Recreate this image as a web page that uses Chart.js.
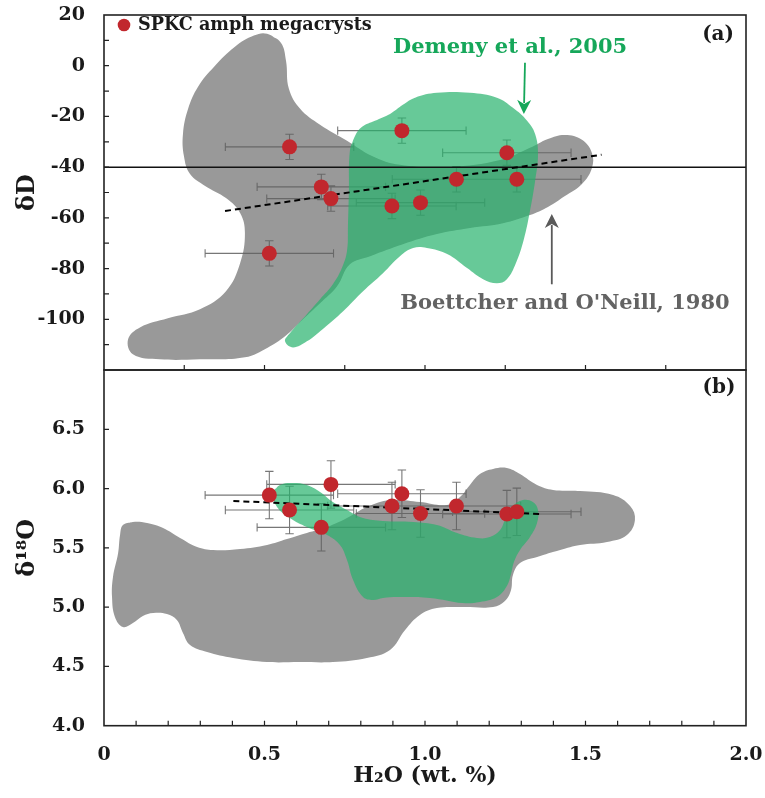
<!DOCTYPE html>
<html>
<head>
<meta charset="utf-8">
<title>SPKC amphibole megacrysts: δD and δ18O vs H2O</title>
<script src="https://cdn.jsdelivr.net/npm/chart.js@4.4.1/dist/chart.umd.min.js"></script>
<style>
  html, body { margin: 0; padding: 0; background: #ffffff; }
  #wrap { position: relative; width: 765px; height: 798px; overflow: hidden; }
  #panelA { position: absolute; left: 0; top: 0; width: 765px; height: 380px; }
  #panelB { position: absolute; left: 0; top: 360px; width: 765px; height: 438px; }
</style>
</head>
<body>
<div id="wrap">
  <canvas id="panelA" width="765" height="380"></canvas>
  <canvas id="panelB" width="765" height="438"></canvas>
</div>
<script>
// ---------- sample measurements (amphibole megacrysts) ----------
const sampleH2O  = [0.515, 0.578, 0.677, 0.707, 0.897, 0.928, 0.986, 1.098, 1.255, 1.286];
const sampleDD   = [-74.0, -32.0, -47.8, -52.4, -55.3, -25.6, -54.0, -44.8, -34.3, -44.8];
const sampleD18O = [5.945, 5.819, 5.673, 6.035, 5.853, 5.956, 5.790, 5.853, 5.785, 5.804];
const errH2O     = [0.2, 0.2, 0.2, 0.2, 0.2, 0.2, 0.2, 0.2, 0.2, 0.2];
const errDD      = [5, 5, 5, 5, 5, 5, 5, 5, 5, 5];
const errD18O    = [0.2, 0.2, 0.2, 0.2, 0.2, 0.2, 0.2, 0.2, 0.2, 0.2];

// ---------- regression lines ----------
const trendDDx = [0.377, 1.550];
const trendDDy = [-57.3, -35.1];
const trendOx  = [0.403, 1.366];
const trendOy  = [5.895, 5.785];

// ---------- horizontal reference in δD ----------
const refLineX = [0, 2];
const refLineDD = -40;

// ---------- literature fields: [H2O, δD] outlines ----------
const boettcherDD = [
  [0.508, 12.6], [0.551, 9.1], [0.567, 2.0], [0.576, -9.1], [0.611, -17.0], [0.673, -23.3],
  [0.757, -29.6], [0.835, -35.6], [0.922, -39.1], [1.078, -39.9], [1.234, -37.2], [1.327, -32.4],
  [1.383, -28.9], [1.436, -27.3], [1.489, -29.2], [1.520, -34.4], [1.520, -40.3], [1.489, -46.6],
  [1.436, -51.4], [1.383, -55.7], [1.327, -58.9], [1.243, -62.1], [1.140, -64.0], [1.037, -66.4],
  [0.931, -70.4], [0.829, -75.1], [0.766, -78.3], [0.726, -87.0], [0.673, -93.7], [0.620, -100.0],
  [0.564, -106.7], [0.511, -111.1], [0.439, -115.0], [0.299, -115.8], [0.174, -115.8], [0.090, -113.8],
  [0.075, -107.9], [0.112, -103.2], [0.199, -99.6], [0.299, -96.0], [0.380, -88.9], [0.424, -77.9],
  [0.439, -66.0], [0.424, -58.1], [0.380, -52.2], [0.315, -47.4], [0.268, -42.7], [0.249, -35.6],
  [0.246, -26.9], [0.262, -17.0], [0.293, -8.3], [0.343, -0.4], [0.408, 7.5], [0.467, 11.9]
];
const demenyDD = [
  [0.766, -33.6], [0.782, -27.7], [0.804, -24.1], [0.844, -21.7], [0.891, -19.0], [0.931, -15.4],
  [0.969, -12.6], [1.037, -10.7], [1.140, -10.7], [1.224, -12.6], [1.274, -16.6], [1.318, -21.7],
  [1.343, -26.9], [1.352, -34.8], [1.343, -45.5], [1.327, -57.3], [1.308, -68.4], [1.283, -77.9],
  [1.255, -84.2], [1.224, -85.8], [1.181, -84.2], [1.131, -79.8], [1.069, -74.3], [1.006, -71.9],
  [0.963, -71.9], [0.922, -75.1], [0.869, -81.8], [0.807, -88.9], [0.745, -96.8], [0.682, -103.8],
  [0.632, -108.7], [0.589, -111.1], [0.564, -108.7], [0.579, -105.5], [0.632, -98.0], [0.673, -92.1],
  [0.713, -86.2], [0.741, -79.8], [0.757, -73.1], [0.760, -63.2], [0.763, -49.4]
];

// ---------- literature fields: [H2O, δ18O] outlines ----------
const boettcherO = [
  [0.059, 5.692], [0.090, 5.718], [0.134, 5.709], [0.184, 5.667], [0.237, 5.583], [0.290, 5.507],
  [0.340, 5.481], [0.424, 5.490], [0.508, 5.524], [0.570, 5.574], [0.632, 5.625], [0.695, 5.675],
  [0.757, 5.751], [0.819, 5.844], [0.891, 5.903], [0.984, 5.886], [1.069, 5.861], [1.109, 5.928],
  [1.140, 6.030], [1.171, 6.122], [1.212, 6.165], [1.255, 6.173], [1.296, 6.122], [1.349, 6.030],
  [1.399, 5.988], [1.483, 5.979], [1.586, 5.946], [1.639, 5.853], [1.654, 5.734], [1.629, 5.608],
  [1.567, 5.549], [1.483, 5.524], [1.421, 5.482], [1.349, 5.423], [1.296, 5.372], [1.274, 5.271],
  [1.268, 5.144], [1.249, 5.051], [1.212, 5.001], [1.118, 5.001], [1.037, 4.992], [0.984, 4.933],
  [0.938, 4.807], [0.891, 4.638], [0.819, 4.571], [0.713, 4.537], [0.611, 4.537], [0.508, 4.537],
  [0.402, 4.571], [0.321, 4.621], [0.268, 4.680], [0.246, 4.782], [0.227, 4.891], [0.196, 4.942],
  [0.153, 4.950], [0.121, 4.925], [0.090, 4.866], [0.059, 4.832], [0.034, 4.917], [0.025, 5.085],
  [0.028, 5.254], [0.044, 5.456], [0.050, 5.608]
];
const demenyO = [
  [0.526, 5.962], [0.548, 6.030], [0.589, 6.047], [0.632, 6.030], [0.673, 5.971], [0.713, 5.886],
  [0.757, 5.819], [0.807, 5.751], [0.869, 5.726], [0.963, 5.718], [1.037, 5.692], [1.100, 5.625],
  [1.162, 5.583], [1.202, 5.591], [1.234, 5.650], [1.249, 5.734], [1.271, 5.844], [1.305, 5.903],
  [1.336, 5.886], [1.352, 5.819], [1.349, 5.709], [1.327, 5.591], [1.296, 5.482], [1.277, 5.380],
  [1.268, 5.279], [1.255, 5.178], [1.224, 5.085], [1.171, 5.043], [1.118, 5.034], [1.016, 5.077],
  [0.913, 5.085], [0.869, 5.077], [0.838, 5.060], [0.807, 5.085], [0.776, 5.228], [0.757, 5.397],
  [0.735, 5.524], [0.695, 5.608], [0.632, 5.675], [0.579, 5.751], [0.539, 5.844]
];

// ---------- axis ticks and labels ----------
const dDTicks    = [-100, -80, -60, -40, -20, 0, 20];
const dDLabels   = ['-100', '-80', '-60', '-40', '-20', '0', '20'];
const dDMarks    = [-110, -100, -90, -80, -70, -60, -50, -40, -30, -20, -10, 0, 10];
const h2oMarksA  = [0.25, 0.5, 0.75, 1.0, 1.25, 1.5, 1.75];
const o18Ticks   = [4.0, 4.5, 5.0, 5.5, 6.0, 6.5];
const o18Labels  = ['4.0', '4.5', '5.0', '5.5', '6.0', '6.5'];
const o18Marks   = [4.5, 5.0, 5.5, 6.0, 6.5];
const h2oTicks   = [0, 0.5, 1.0, 1.5, 2.0];
const h2oLabels  = ['0', '0.5', '1.0', '1.5', '2.0'];
const h2oMarksB  = [0.1, 0.2, 0.3, 0.4, 0.5, 0.6, 0.7, 0.8, 0.9, 1.0, 1.1, 1.2, 1.3, 1.4, 1.5, 1.6, 1.7, 1.8, 1.9];

// ---------- styling ----------
const SERIF = "'DejaVu Serif', 'Liberation Serif', serif";
const INK = '#1a1a1a';
const RED = '#C1272D';
const GREEN_FILL = 'rgba(38,178,108,0.7)';
const GRAY_FILL = '#999999';
const GREEN_TEXT = '#16A75A';
const GRAY_TEXT = '#636363';
const ERR_COLOR = 'rgba(95,95,95,0.85)';

Chart.defaults.font.family = SERIF;

const pairs = (xs, ys) => xs.map((x, i) => ({ x, y: ys[i] }));
// repeat the first two vertices so the smoothed outline closes without a corner
const closedOutline = pts => pts.concat(pts.slice(0, 2)).map(([x, y]) => ({ x, y }));

function fieldDataset(label, pts, color, order) {
  return {
    type: 'line', label, data: closedOutline(pts), order,
    backgroundColor: color, borderColor: 'rgba(0,0,0,0)', borderWidth: 0,
    pointRadius: 0, pointHitRadius: 0, tension: 0.4, fill: 'shape'
  };
}

// keep the plot box fixed: tick labels may overhang the box edges
function noOverhang(s) {
  s.paddingTop = 0; s.paddingBottom = 0; s.paddingLeft = 0; s.paddingRight = 0;
}

// error bars drawn right after the grey field so the green field tints them
function errorBarPlugin(xs, ys, ex, ey, afterIndex) {
  return {
    id: 'errorBars',
    afterDatasetDraw(chart, args) {
      if (args.index !== afterIndex) return;
      const { ctx, chartArea: a } = chart;
      const sx = chart.scales.x, sy = chart.scales.y;
      const cap = 4.2;
      ctx.save();
      ctx.beginPath();
      ctx.rect(a.left, a.top, a.width, a.height);
      ctx.clip();
      ctx.strokeStyle = ERR_COLOR;
      ctx.lineWidth = 1.1;
      ctx.beginPath();
      xs.forEach((xv, i) => {
        const yv = ys[i];
        const cx = sx.getPixelForValue(xv), cy = sy.getPixelForValue(yv);
        const x0 = sx.getPixelForValue(xv - ex[i]), x1 = sx.getPixelForValue(xv + ex[i]);
        const y0 = sy.getPixelForValue(yv - ey[i]), y1 = sy.getPixelForValue(yv + ey[i]);
        ctx.moveTo(x0, cy); ctx.lineTo(x1, cy);
        ctx.moveTo(x0, cy - cap); ctx.lineTo(x0, cy + cap);
        ctx.moveTo(x1, cy - cap); ctx.lineTo(x1, cy + cap);
        ctx.moveTo(cx, y0); ctx.lineTo(cx, y1);
        ctx.moveTo(cx - cap, y0); ctx.lineTo(cx + cap, y0);
        ctx.moveTo(cx - cap, y1); ctx.lineTo(cx + cap, y1);
      });
      ctx.stroke();
      ctx.restore();
    }
  };
}

// box frame with inward tick marks
function framePlugin(xMarks, yMarks) {
  return {
    id: 'frame',
    afterDraw(chart) {
      const { ctx, chartArea: a } = chart;
      const sx = chart.scales.x, sy = chart.scales.y;
      const len = 5;
      ctx.save();
      ctx.strokeStyle = '#222';
      ctx.lineWidth = 1.2;
      ctx.beginPath();
      xMarks.forEach(v => {
        const p = sx.getPixelForValue(v);
        ctx.moveTo(p, a.bottom); ctx.lineTo(p, a.bottom - len);
      });
      yMarks.forEach(v => {
        const p = sy.getPixelForValue(v);
        ctx.moveTo(a.left, p); ctx.lineTo(a.left + len, p);
      });
      ctx.stroke();
      ctx.lineWidth = 1.6;
      ctx.strokeRect(a.left, a.top, a.width, a.height);
      ctx.restore();
    }
  };
}

function drawArrow(ctx, x0, y0, x1, y1, color) {
  const ang = Math.atan2(y1 - y0, x1 - x0);
  const head = 14, half = 7;
  ctx.save();
  ctx.strokeStyle = color;
  ctx.fillStyle = color;
  ctx.lineWidth = 1.8;
  ctx.beginPath();
  ctx.moveTo(x0, y0);
  ctx.lineTo(x1 - Math.cos(ang) * (head - 3), y1 - Math.sin(ang) * (head - 3));
  ctx.stroke();
  ctx.translate(x1, y1);
  ctx.rotate(ang);
  ctx.beginPath();
  ctx.moveTo(0, 0);
  ctx.lineTo(-head, -half);
  ctx.lineTo(-head + 4, 0);
  ctx.lineTo(-head, half);
  ctx.closePath();
  ctx.fill();
  ctx.restore();
}

// text labels and arrows placed in data coordinates
function notesPlugin(texts, arrows) {
  return {
    id: 'notes',
    afterDatasetsDraw(chart) {
      const { ctx } = chart;
      const sx = chart.scales.x, sy = chart.scales.y;
      arrows.forEach(ar => {
        drawArrow(ctx, sx.getPixelForValue(ar.x0), sy.getPixelForValue(ar.y0),
                  sx.getPixelForValue(ar.x1), sy.getPixelForValue(ar.y1), ar.color);
      });
      texts.forEach(t => {
        ctx.save();
        ctx.font = `bold ${t.size}px ${SERIF}`;
        ctx.fillStyle = t.color;
        ctx.textAlign = 'center';
        ctx.textBaseline = 'middle';
        ctx.fillText(t.text, sx.getPixelForValue(t.x), sy.getPixelForValue(t.y));
        ctx.restore();
      });
    }
  };
}

// key for the sample symbols, in the upper-left corner of the plot
const samplesKeyPlugin = {
  id: 'samplesKey',
  afterDatasetsDraw(chart) {
    const { ctx, chartArea: a } = chart;
    const ds = chart.data.datasets[0];
    const cx = a.left + 20, cy = a.top + 10;
    ctx.save();
    ctx.fillStyle = ds.backgroundColor;
    ctx.beginPath();
    ctx.arc(cx, cy, 6.3, 0, Math.PI * 2);
    ctx.fill();
    ctx.font = `bold 17.6px ${SERIF}`;
    ctx.fillStyle = INK;
    ctx.textAlign = 'left';
    ctx.textBaseline = 'middle';
    ctx.fillText(ds.label, cx + 14, cy);
    ctx.restore();
  }
};

const tickFont = { family: SERIF, size: 19, weight: 'bold' };
const titleFont = { family: SERIF, size: 24, weight: 'bold' };

// ---------- panel (a): δD ----------
new Chart(document.getElementById('panelA'), {
  type: 'scatter',
  data: {
    datasets: [
      { label: 'SPKC amph megacrysts', data: pairs(sampleH2O, sampleDD), order: 0,
        backgroundColor: RED, borderWidth: 0, pointRadius: 7.5 },
      { type: 'line', label: 'trend', data: pairs(trendDDx, trendDDy), order: 1,
        borderColor: '#000', borderWidth: 2, borderDash: [6, 4], pointRadius: 0, fill: false, tension: 0 },
      { type: 'line', label: 'reference', data: pairs(refLineX, refLineX.map(() => refLineDD)), order: 2,
        borderColor: '#111', borderWidth: 1.5, pointRadius: 0, fill: false, tension: 0 },
      fieldDataset('Demeny et al., 2005', demenyDD, GREEN_FILL, 3),
      fieldDataset("Boettcher and O'Neill, 1980", boettcherDD, GRAY_FILL, 4)
    ]
  },
  options: {
    responsive: false, animation: false, events: [],
    layout: { padding: { left: 13, right: 19, top: 15, bottom: 10 } },
    plugins: { legend: { display: false }, tooltip: { enabled: false } },
    scales: {
      x: { type: 'linear', min: 0, max: 2, display: false },
      y: {
        type: 'linear', min: -120, max: 20,
        grid: { display: false }, border: { display: false },
        afterBuildTicks: s => { s.ticks = dDTicks.map(v => ({ value: v })); },
        afterFit: s => { s.width = 91; noOverhang(s); },
        ticks: { autoSkip: false, padding: 11, color: INK, font: tickFont, callback: (v, i) => dDLabels[i] },
        title: { display: true, text: 'δD', color: INK, font: titleFont, padding: 0 }
      }
    }
  },
  plugins: [
    errorBarPlugin(sampleH2O, sampleDD, errH2O, errDD, 4),
    notesPlugin(
      [
        { text: 'Demeny et al., 2005', x: 1.265, y: 7.1, color: GREEN_TEXT, size: 21 },
        { text: "Boettcher and O'Neill, 1980", x: 1.436, y: -93.6, color: GRAY_TEXT, size: 21 },
        { text: '(a)', x: 1.913, y: 12.3, color: INK, size: 20 }
      ],
      [
        { x0: 1.3115, y0: 1.2, x1: 1.308, y1: -19.0, color: GREEN_TEXT },
        { x0: 1.395, y0: -86.2, x1: 1.395, y1: -58.5, color: '#5a5a5a' }
      ]
    ),
    samplesKeyPlugin,
    framePlugin(h2oMarksA, dDMarks)
  ]
});

// ---------- panel (b): δ18O ----------
new Chart(document.getElementById('panelB'), {
  type: 'scatter',
  data: {
    datasets: [
      { label: 'SPKC amph megacrysts', data: pairs(sampleH2O, sampleD18O), order: 0,
        backgroundColor: RED, borderWidth: 0, pointRadius: 7.5 },
      { type: 'line', label: 'trend', data: pairs(trendOx, trendOy), order: 1,
        borderColor: '#000', borderWidth: 2, borderDash: [6, 4], pointRadius: 0, fill: false, tension: 0 },
      fieldDataset('Demeny et al., 2005', demenyO, GREEN_FILL, 2),
      fieldDataset("Boettcher and O'Neill, 1980", boettcherO, GRAY_FILL, 3)
    ]
  },
  options: {
    responsive: false, animation: false, events: [],
    layout: { padding: { left: 13, right: 19, top: 10, bottom: 9 } },
    plugins: { legend: { display: false }, tooltip: { enabled: false } },
    scales: {
      x: {
        type: 'linear', min: 0, max: 2,
        grid: { display: false }, border: { display: false },
        afterBuildTicks: s => { s.ticks = h2oTicks.map(v => ({ value: v })); },
        afterFit: s => { s.height = 63.3; noOverhang(s); },
        ticks: { autoSkip: false, maxRotation: 0, padding: 10, color: INK, font: tickFont, callback: (v, i) => h2oLabels[i] },
        title: { display: true, text: 'H₂O (wt. %)', color: INK, font: { family: SERIF, size: 22, weight: 'bold' }, padding: 0 }
      },
      y: {
        type: 'linear', min: 4, max: 7,
        grid: { display: false }, border: { display: false },
        afterBuildTicks: s => { s.ticks = o18Ticks.map(v => ({ value: v })); },
        afterFit: s => { s.width = 91; noOverhang(s); },
        ticks: { autoSkip: false, padding: 11, color: INK, font: tickFont, callback: (v, i) => o18Labels[i] },
        title: { display: true, text: 'δ¹⁸O', color: INK, font: titleFont, padding: 0 }
      }
    }
  },
  plugins: [
    errorBarPlugin(sampleH2O, sampleD18O, errH2O, errD18O, 3),
    notesPlugin([{ text: '(b)', x: 1.916, y: 6.847, color: INK, size: 20 }], []),
    framePlugin(h2oMarksB, o18Marks)
  ]
});
</script>
</body>
</html>
